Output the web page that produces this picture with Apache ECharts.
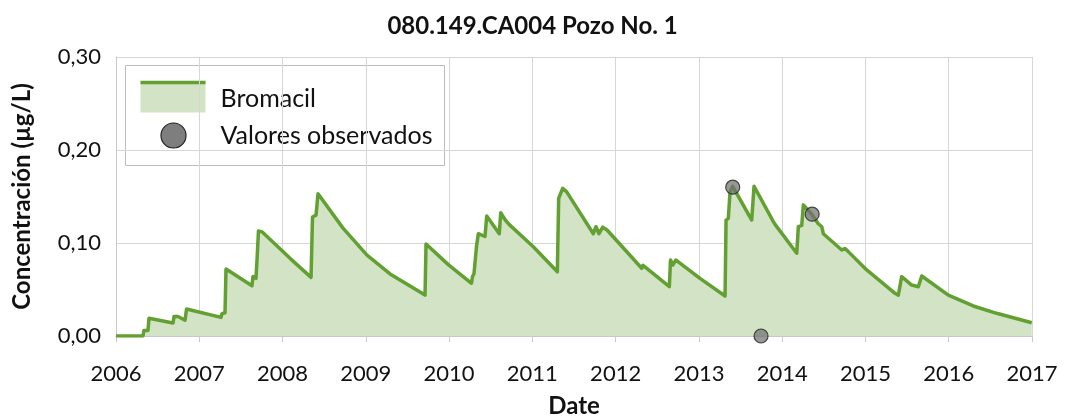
<!DOCTYPE html>
<html>
<head>
<meta charset="utf-8">
<script src="https://cdn.jsdelivr.net/npm/echarts@6/dist/echarts.min.js"></script>
<style>
  html, body { margin: 0; padding: 0; background: #fff; }
  #chart { width: 1065px; height: 418px; }
</style>
</head>
<body>
<div id="chart"></div>
<script>
// Simulated Bromacil concentration (decimal year, µg/L)
const simYears = [
  2006.000, 2006.324, 2006.336, 2006.384, 2006.396, 2006.420, 2006.685, 2006.697, 2006.745, 2006.829,
  2006.847, 2006.865, 2007.261, 2007.273, 2007.309, 2007.321, 2007.633, 2007.645, 2007.681, 2007.693,
  2007.711, 2007.753, 2007.909, 2008.090, 2008.342, 2008.360, 2008.402, 2008.426, 2008.726, 2008.750,
  2009.014, 2009.291, 2009.711, 2009.723, 2009.987, 2010.269, 2010.281, 2010.299, 2010.329, 2010.351,
  2010.431, 2010.452, 2010.603, 2010.620, 2010.672, 2010.692, 2010.720, 2010.744, 2011.011, 2011.300,
  2011.316, 2011.364, 2011.412, 2011.732, 2011.764, 2011.800, 2011.845, 2011.897, 2012.313, 2012.329,
  2012.645, 2012.659, 2012.686, 2012.725, 2013.013, 2013.314, 2013.326, 2013.353, 2013.374, 2013.406,
  2013.634, 2013.662, 2013.894, 2013.914, 2014.175, 2014.194, 2014.235, 2014.254, 2014.355, 2014.431,
  2014.475, 2014.494, 2014.715, 2014.755, 2014.791, 2015.015, 2015.355, 2015.395, 2015.435, 2015.555,
  2015.635, 2015.676, 2015.995, 2016.295, 2016.576, 2016.997
];
const simValues = [
  0.000, 0.000, 0.006, 0.006, 0.019, 0.0195, 0.014, 0.021, 0.021, 0.017,
  0.029, 0.029, 0.020, 0.024, 0.025, 0.072, 0.054, 0.064, 0.062, 0.081,
  0.113, 0.112, 0.099, 0.0835, 0.063, 0.128, 0.130, 0.153, 0.116, 0.117,
  0.087, 0.0667, 0.044, 0.099, 0.077, 0.0567, 0.064, 0.067, 0.096, 0.110,
  0.107, 0.129, 0.110, 0.1326, 0.125, 0.1265, 0.120, 0.121, 0.096, 0.069,
  0.148, 0.1588, 0.155, 0.110, 0.1175, 0.110, 0.117, 0.114, 0.0728, 0.076,
  0.053, 0.0817, 0.0763, 0.0817, 0.062, 0.043, 0.1247, 0.1265, 0.155, 0.161,
  0.1247, 0.161, 0.123, 0.120, 0.089, 0.1175, 0.119, 0.141, 0.131, 0.121,
  0.1175, 0.110, 0.0925, 0.094, 0.091, 0.071, 0.0459, 0.044, 0.0638, 0.0548,
  0.053, 0.0645, 0.044, 0.0323, 0.0244, 0.0143
];

// Observed samples
const obsYears = [2013.406, 2013.746, 2014.360];
const obsValues = [0.160, 0.000, 0.131];

const chartTitle = '080.149.CA004 Pozo No. 1';
const seriesNames = ['Bromacil', 'Valores observados'];
const xAxisName = 'Date';
const yAxisName = 'Concentración (µg/L)';

const lineColor = '#62a032';
const areaColor = '#d3e3c5';
const dotColor = 'rgba(112,112,112,0.9)';
const font = 'Lato, "Open Sans", sans-serif';

const simData = simYears.map((y, i) => [y, simValues[i]]);
const obsData = obsYears.map((y, i) => [y, obsValues[i]]);

const chart = echarts.init(document.getElementById('chart'), null, { renderer: 'canvas' });

chart.setOption({
  animation: false,
  backgroundColor: '#ffffff',
  title: {
    text: chartTitle,
    left: 'center',
    top: 9,
    textStyle: { fontFamily: font, fontWeight: 'bold', fontSize: 24, color: '#111' }
  },
  grid: { left: 116, right: 33, top: 57, bottom: 82, containLabel: false, outerBoundsMode: 'none' },
  xAxis: {
    type: 'value',
    min: 2006,
    max: 2017,
    interval: 1,
    name: xAxisName,
    nameLocation: 'middle',
    nameGap: 58,
    nameTextStyle: { fontFamily: font, fontWeight: 'bold', fontSize: 24, color: '#111' },
    axisLine: { show: true, lineStyle: { color: '#c8c8c8', width: 1 } },
    axisTick: { show: true, length: 6, lineStyle: { color: '#c8c8c8' } },
    axisLabel: {
      fontFamily: font, fontSize: 22, color: '#111', margin: 27,
      formatter: v => String(Math.round(v))
    },
    splitLine: { show: true, lineStyle: { color: '#d6d6d6', width: 1 } }
  },
  yAxis: {
    type: 'value',
    min: 0,
    max: 0.3,
    interval: 0.1,
    name: yAxisName,
    nameLocation: 'middle',
    nameGap: 82,
    nameRotate: 90,
    nameTextStyle: { fontFamily: font, fontWeight: 'bold', fontSize: 24, color: '#111' },
    axisLine: { show: true, lineStyle: { color: '#c8c8c8', width: 1 } },
    axisTick: { show: false },
    axisLabel: {
      fontFamily: font, fontSize: 22, color: '#111', margin: 15,
      formatter: v => v.toFixed(2).replace('.', ',')
    },
    splitLine: { show: true, lineStyle: { color: '#d6d6d6', width: 1 } }
  },
  series: [
    {
      name: seriesNames[0],
      type: 'line',
      data: simData,
      showSymbol: false,
      symbol: 'none',
      lineStyle: { color: lineColor, width: 3.5, join: 'round' },
      itemStyle: { color: lineColor },
      areaStyle: { color: areaColor, opacity: 1 },
      z: 2
    },
    {
      name: seriesNames[1],
      type: 'scatter',
      data: obsData,
      symbol: 'circle',
      symbolSize: 14,
      itemStyle: { color: dotColor, borderColor: '#222', borderWidth: 1.2 },
      z: 3
    }
  ],
  graphic: [
    {
      type: 'group',
      left: 125,
      top: 65,
      z: 100,
      children: [
        { type: 'rect', shape: { x: 0, y: 0, width: 319, height: 100 },
          style: { fill: '#fff', stroke: '#bdbdbd', lineWidth: 1 } },
        { type: 'rect', shape: { x: 15, y: 16, width: 65, height: 31 },
          style: { fill: areaColor } },
        { type: 'line', shape: { x1: 15, y1: 17, x2: 80, y2: 17 },
          style: { stroke: lineColor, lineWidth: 3.5 } },
        { type: 'text', style: { text: seriesNames[0], x: 95, y: 33, verticalAlign: 'middle',
          fontFamily: font, fontSize: 25, fill: '#111' } },
        { type: 'circle', shape: { cx: 48, cy: 70, r: 12.5 },
          style: { fill: dotColor, stroke: '#222', lineWidth: 1.2 } },
        { type: 'text', style: { text: seriesNames[1], x: 95, y: 70, verticalAlign: 'middle',
          fontFamily: font, fontSize: 25, fill: '#111' } }
      ]
    }
  ]
});
</script>
</body>
</html>
